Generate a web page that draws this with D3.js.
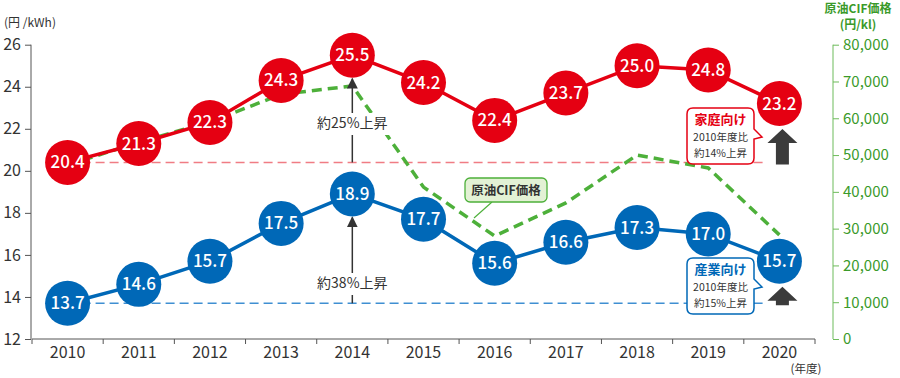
<!DOCTYPE html>
<html>
<head>
<meta charset="utf-8">
<script src="https://cdn.jsdelivr.net/npm/d3@7"></script>
<style>
  body { margin: 0; background: #fff; }
  svg text { font-family: "Noto Sans CJK JP", "Noto Sans", sans-serif; }
</style>
</head>
<body>
<svg id="chart"></svg>
<script>
// chart data
const years = ['2010', '2011', '2012', '2013', '2014', '2015', '2016', '2017', '2018', '2019', '2020'];
const household = [20.4, 21.3, 22.3, 24.3, 25.5, 24.2, 22.4, 23.7, 25.0, 24.8, 23.2];
const industry = [13.7, 14.6, 15.7, 17.5, 18.9, 17.7, 15.6, 16.6, 17.3, 17.0, 15.7];
const crudeCif = [47300, 53500, 59000, 66500, 68800, 41300, 28000, 37000, 50000, 46500, 28300];
const leftTicks = [12, 14, 16, 18, 20, 22, 24, 26];
const rightTicks = [0, 10000, 20000, 30000, 40000, 50000, 60000, 70000, 80000];

function buildChart() {
    const width = 900;
    const height = 378;
    const svg = d3.select('#chart').attr('width', width).attr('height', height);

    const red = '#e50012';
    const blue = '#0068b7';
    const green = '#4db03a';
    const dark = '#333';

    // scales
    const x = d3.scaleBand().domain(years).range([32, 815]);
    const cx = d => x(d) + x.bandwidth() / 2;
    const yL = d3.scaleLinear().domain([12, 26]).range([339, 44.7]);
    const yR = d3.scaleLinear().domain([0, 80000]).range([339, 44.7]);
    const r = 22.5;

    // left axis
    const leftAxis = svg.append('g').attr('transform', 'translate(31,0)')
        .call(d3.axisLeft(yL).tickValues(leftTicks).tickSize(6).tickPadding(4));
    leftAxis.selectAll('text').attr('font-size', 16).attr('fill', dark);
    leftAxis.selectAll('line,path').attr('stroke', '#555');
    leftAxis.select('.domain').attr('d', 'M0,44.7V339');

    svg.append('text').attr('x', 4).attr('y', 27).attr('font-size', 12).attr('fill', dark).text('(円 /kWh)');

    // right axis
    const rightAxis = svg.append('g').attr('transform', 'translate(833,0)')
        .call(d3.axisRight(yR).tickValues(rightTicks).tickSize(6).tickPadding(4).tickFormat(d3.format(',')));
    rightAxis.selectAll('text').attr('font-size', 15).attr('fill', '#3a9a2a');
    rightAxis.selectAll('line,path').attr('stroke', '#6dbb5a');
    rightAxis.select('.domain').attr('d', 'M0,44.7V339');

    svg.append('text').attr('x', 858).attr('y', 13).attr('text-anchor', 'middle')
        .attr('font-size', 12).attr('font-weight', 'bold').attr('fill', '#3a9a2a').text('原油CIF価格');
    svg.append('text').attr('x', 858).attr('y', 29).attr('text-anchor', 'middle')
        .attr('font-size', 12).attr('font-weight', 'bold').attr('fill', '#3a9a2a').text('(円/kl)');

    // x axis with ticks on band edges
    const xAxis = svg.append('g').attr('transform', 'translate(0,339)');
    xAxis.append('line').attr('x1', 32).attr('x2', 815).attr('stroke', '#555');
    xAxis.selectAll('line.tk').data(years.concat(['end'])).enter().append('line')
        .attr('class', 'tk')
        .attr('x1', (d, i) => 32 + i * x.bandwidth())
        .attr('x2', (d, i) => 32 + i * x.bandwidth())
        .attr('y1', 0).attr('y2', 5).attr('stroke', '#555');
    xAxis.selectAll('text').data(years).enter().append('text')
        .attr('x', d => cx(d)).attr('y', 19).attr('text-anchor', 'middle')
        .attr('font-size', 16).attr('fill', dark).text(d => d);
    svg.append('text').attr('x', 806).attr('y', 373).attr('text-anchor', 'middle')
        .attr('font-size', 11.5).attr('fill', dark).text('(年度)');

    const last = years[years.length - 1];

    // dashed reference lines from 2010 level
    svg.append('line').attr('x1', cx(years[0])).attr('x2', cx(last) - 12)
        .attr('y1', yL(household[0])).attr('y2', yL(household[0]))
        .attr('stroke', '#f07c84').attr('stroke-width', 1.5).attr('stroke-dasharray', '9,5');
    svg.append('line').attr('x1', cx(years[0])).attr('x2', cx(last) - 12)
        .attr('y1', yL(industry[0])).attr('y2', yL(industry[0]))
        .attr('stroke', '#3f8fd2').attr('stroke-width', 1.5).attr('stroke-dasharray', '9,5');

    // crude oil CIF line
    const cifLine = d3.line().x((d, i) => cx(years[i])).y(d => yR(d));
    svg.append('path').datum(crudeCif).attr('d', cifLine)
        .attr('fill', 'none').attr('stroke', green).attr('stroke-width', 3.5)
        .attr('stroke-dasharray', '10,6');

    // CIF label
    const lb = svg.append('g');
    lb.append('line').attr('x1', 492).attr('y1', 202).attr('x2', 474).attr('y2', 218)
        .attr('stroke', green).attr('stroke-width', 1.2);
    lb.append('rect').attr('x', 465).attr('y', 178).attr('width', 82).attr('height', 24).attr('rx', 5)
        .attr('fill', '#e3f1d5').attr('stroke', green).attr('stroke-width', 1.3);
    lb.append('text').attr('x', 506).attr('y', 195).attr('text-anchor', 'middle')
        .attr('font-size', 12.5).attr('font-weight', 'bold').attr('fill', dark).text('原油CIF価格');

    // arrowhead marker
    svg.append('defs').append('marker').attr('id', 'head')
        .attr('viewBox', '0 0 10 10').attr('refX', 9).attr('refY', 5)
        .attr('markerWidth', 11).attr('markerHeight', 11).attr('markerUnits', 'userSpaceOnUse')
        .attr('orient', 'auto')
        .append('path').attr('d', 'M0,0L10,5L0,10Z').attr('fill', dark);

    // rise arrows at 2014
    const peak = '2014';
    const pi = years.indexOf(peak);
    function riseArrow(base, top, label, labelY) {
        svg.append('line').attr('x1', cx(peak)).attr('x2', cx(peak))
            .attr('y1', yL(base)).attr('y2', yL(top) + r + 1)
            .attr('stroke', dark).attr('stroke-width', 1.5)
            .attr('marker-end', 'url(#head)');
        svg.append('rect').attr('x', cx(peak) - 40).attr('y', labelY - 15).attr('width', 80).attr('height', 22)
            .attr('fill', '#fff');
        svg.append('text').attr('x', cx(peak)).attr('y', labelY).attr('text-anchor', 'middle')
            .attr('font-size', 14).attr('fill', dark).text(label);
    }
    riseArrow(household[0], household[pi], '約25%上昇', 128);
    riseArrow(industry[0], industry[pi], '約38%上昇', 288);

    // big arrows at 2020
    function bigArrow(base, top) {
        const xc = cx(last) + 3;
        const y0 = yL(base) + 2;
        const y1 = yL(top) + r + 3;
        const hh = 14;
        svg.append('path')
            .attr('d', `M${xc - 6.5},${y0}V${y1 + hh}H${xc - 15}L${xc},${y1}L${xc + 15},${y1 + hh}H${xc + 6.5}V${y0}Z`)
            .attr('fill', '#3b3b3b');
    }
    bigArrow(household[0], household[household.length - 1]);
    bigArrow(industry[0], industry[industry.length - 1]);

    // series lines and circles
    function series(values, color) {
        const line = d3.line().x((d, i) => cx(years[i])).y(d => yL(d));
        svg.append('path').datum(values).attr('d', line)
            .attr('fill', 'none').attr('stroke', color).attr('stroke-width', 3.5);
        const g = svg.append('g');
        g.selectAll('circle').data(values).enter().append('circle')
            .attr('cx', (d, i) => cx(years[i])).attr('cy', d => yL(d)).attr('r', r)
            .attr('fill', color);
        g.selectAll('text').data(values).enter().append('text')
            .attr('x', (d, i) => cx(years[i])).attr('y', d => yL(d) + 6)
            .attr('text-anchor', 'middle').attr('font-size', 17).attr('font-weight', 500)
            .attr('fill', '#fff').text(d => d3.format('.1f')(d));
    }
    series(household, red);
    series(industry, blue);

    // callout boxes
    function callout(yTop, color, title, l1, l2) {
        const g = svg.append('g');
        const bx = 687, bw = 67, bh = 56;
        const py = yTop + 27;
        g.append('path')
            .attr('d', `M${bx + 6},${yTop}H${bx + bw - 6}Q${bx + bw},${yTop} ${bx + bw},${yTop + 6}` +
                `V${py - 6}L${bx + bw + 8},${py + 2}L${bx + bw},${py + 4}` +
                `V${yTop + bh - 6}Q${bx + bw},${yTop + bh} ${bx + bw - 6},${yTop + bh}` +
                `H${bx + 6}Q${bx},${yTop + bh} ${bx},${yTop + bh - 6}V${yTop + 6}Q${bx},${yTop} ${bx + 6},${yTop}Z`)
            .attr('fill', '#fff').attr('stroke', color).attr('stroke-width', 1.5);
        g.append('text').attr('x', bx + bw / 2).attr('y', yTop + 16).attr('text-anchor', 'middle')
            .attr('font-size', 13).attr('font-weight', 'bold').attr('fill', color).text(title);
        g.append('text').attr('x', bx + bw / 2).attr('y', yTop + 33).attr('text-anchor', 'middle')
            .attr('font-size', 10.5).attr('fill', dark).text(l1);
        g.append('text').attr('x', bx + bw / 2).attr('y', yTop + 49).attr('text-anchor', 'middle')
            .attr('font-size', 10.5).attr('fill', dark).text(l2);
    }
    callout(108, red, '家庭向け', '2010年度比', '約14%上昇');
    callout(258, blue, '産業向け', '2010年度比', '約15%上昇');
}

buildChart();
</script>
</body>
</html>
